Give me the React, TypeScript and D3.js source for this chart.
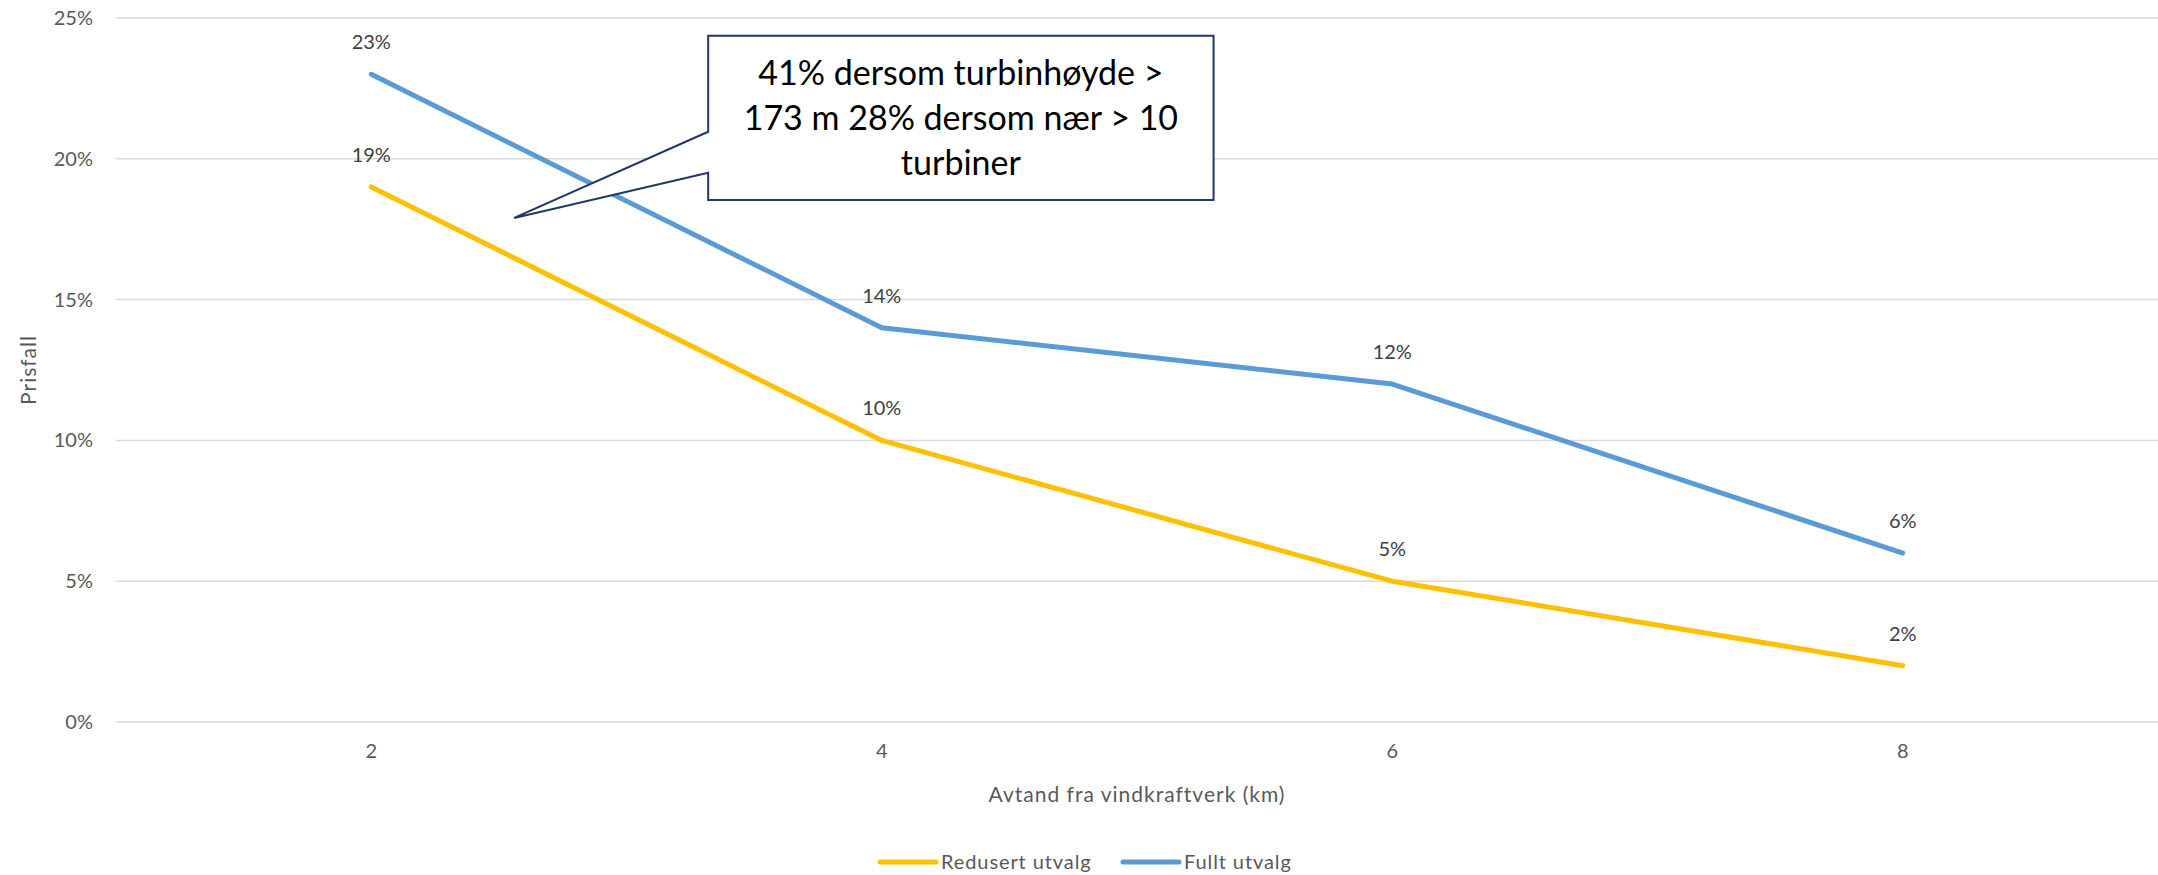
import React, { useEffect } from "react";
import * as d3 from "d3";

const distances = [2, 4, 6, 8];
const redusert = [0.19, 0.1, 0.05, 0.02];
const fullt = [0.23, 0.14, 0.12, 0.06];
const yTicks = [0, 0.05, 0.1, 0.15, 0.2, 0.25];
const seriesNames = ["Redusert utvalg", "Fullt utvalg"];
const seriesColors = ["#FFC000", "#5B9BD5"];
const calloutLines = ["41% dersom turbinhøyde >", "173 m 28% dersom nær > 10", "turbiner"];

const W = 2158;
const H = 875;
const font = "Lato, 'Open Sans', sans-serif";

const App = () => {
  useEffect(() => {
    document.body.style.margin = "0";
  }, []);

  const x = d3.scaleLinear().domain([1, 9]).range([116, 2158]);
  const y = d3.scaleLinear().domain([0, 0.25]).range([722, 18]);
  const pct = d3.format(".0%");

  const line = d3
    .line<number>()
    .x((_, i) => x(distances[i]))
    .y((d) => y(d));

  const series = [redusert, fullt];

  // callout placed in data units
  const box = { x0: x(3.32), x1: x(5.3), y0: y(0.2437), y1: y(0.1854) };
  const tip = [x(2.56), y(0.179)];
  const baseTop = y(0.2096);
  const baseBot = y(0.195);
  const calloutPath = [
    `M${box.x0},${box.y0}`,
    `L${box.x1},${box.y0}`,
    `L${box.x1},${box.y1}`,
    `L${box.x0},${box.y1}`,
    `L${box.x0},${baseBot}`,
    `L${tip[0]},${tip[1]}`,
    `L${box.x0},${baseTop}`,
    "Z",
  ].join(" ");
  const cx = (box.x0 + box.x1) / 2;

  return (
    <svg width={W} height={H} style={{ display: "block", fontFamily: font }}>
      <rect width={W} height={H} fill="#fff" />
      {yTicks.map((t) => (
        <g key={t}>
          <line x1={x(1)} x2={x(9)} y1={y(t)} y2={y(t)} stroke="#D9D9D9" strokeWidth={1.5} />
          <text x={93} y={y(t)} dy="0.35em" textAnchor="end" fontSize={20} fill="#595959">
            {pct(t)}
          </text>
        </g>
      ))}
      {distances.map((d) => (
        <text key={d} x={x(d)} y={758} textAnchor="middle" fontSize={20} fill="#595959">
          {d}
        </text>
      ))}
      <text
        x={(x(1) + x(9)) / 2}
        y={802}
        textAnchor="middle"
        fontSize={21}
        fill="#595959"
        letterSpacing={1}
      >
        Avtand fra vindkraftverk (km)
      </text>
      <text
        transform={`translate(36,${(y(0) + y(0.25)) / 2}) rotate(-90)`}
        textAnchor="middle"
        fontSize={21}
        fill="#595959"
        letterSpacing={1}
      >
        Prisfall
      </text>

      {series.map((s, k) => (
        <path
          key={k}
          d={line(s) || ""}
          fill="none"
          stroke={seriesColors[k]}
          strokeWidth={5}
          strokeLinecap="round"
          strokeLinejoin="round"
        />
      ))}
      {series.map((s, k) =>
        s.map((v, i) => (
          <text
            key={`${k}-${i}`}
            x={x(distances[i])}
            y={y(v) - 25}
            textAnchor="middle"
            fontSize={20}
            fill="#404040"
          >
            {pct(v)}
          </text>
        ))
      )}

      <path d={calloutPath} fill="#fff" stroke="#1F3864" strokeWidth={2} strokeLinejoin="miter" />
      {calloutLines.map((t, i) => (
        <text key={i} x={cx} y={85 + i * 45} textAnchor="middle" fontSize={34} fill="#000">
          {t}
        </text>
      ))}

      {seriesNames.map((n, k) => {
        const lx = k === 0 ? 880 : 1123;
        return (
          <g key={n}>
            <line x1={lx} x2={lx + 56} y1={862} y2={862} stroke={seriesColors[k]} strokeWidth={5} strokeLinecap="round" />
            <text x={lx + 61} y={862} dy="0.35em" fontSize={20} fill="#595959" letterSpacing={0.9}>
              {n}
            </text>
          </g>
        );
      })}
    </svg>
  );
};

export default App;
